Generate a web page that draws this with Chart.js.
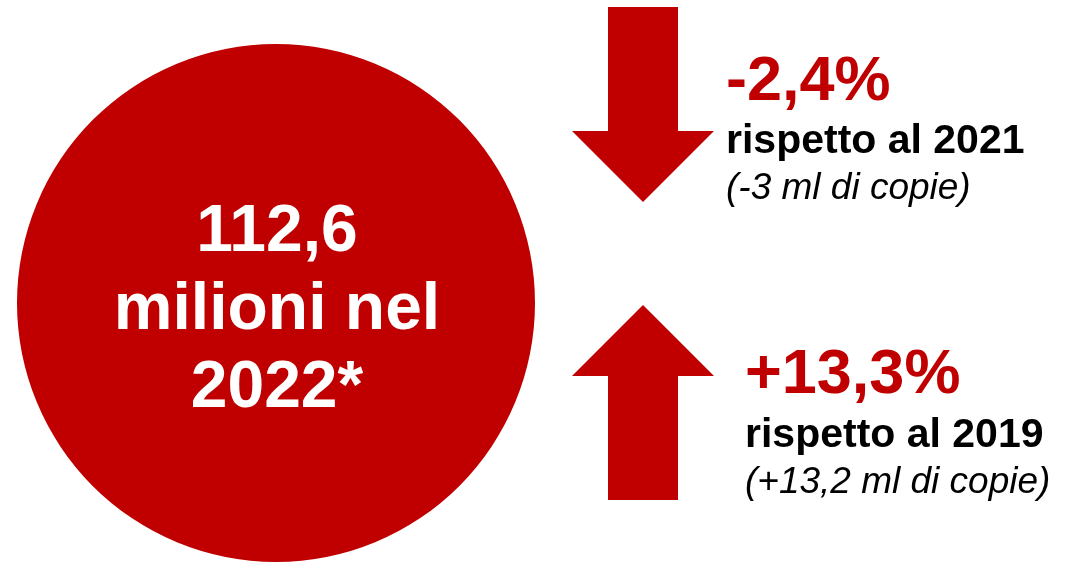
<!DOCTYPE html>
<html>
<head>
<meta charset="utf-8">
<script src="https://cdn.jsdelivr.net/npm/chart.js@4.4.0/dist/chart.umd.min.js"></script>
<style>
  html, body { margin: 0; padding: 0; background: #fff; overflow: hidden; }
  canvas { display: block; }
</style>
</head>
<body>
<canvas id="infografica" width="1075" height="562"></canvas>
<script>
// dati
const totale = [112.6]
const annoTotale = '2022*'
const anniConfronto = ['2021', '2019']
const variazioni = [-2.4, 13.3]
const copie = [-3, 13.2]

const ROSSO = '#c00000'
const FONT = '"Liberation Sans", Arial, sans-serif'

const fmt = (v, sign) => {
  const s = String(v).replace('.', ',')
  return sign && v > 0 ? '+' + s : s
}

// layout of the right column (one slot per comparison)
const slots = [
  { top: 7, bottom: 202, textX: 726, y: [100, 153, 199] },
  { top: 305, bottom: 500, textX: 745, y: [393, 447, 493] }
]
const arrow = { cx: 643, shaft: 35, head: 71 }

const drawArrow = (ctx, slot, up) => {
  const { cx, shaft, head } = arrow
  ctx.beginPath()
  if (up) {
    const base = slot.top + head
    ctx.moveTo(cx, slot.top)
    ctx.lineTo(cx + head, base)
    ctx.lineTo(cx + shaft, base)
    ctx.lineTo(cx + shaft, slot.bottom)
    ctx.lineTo(cx - shaft, slot.bottom)
    ctx.lineTo(cx - shaft, base)
    ctx.lineTo(cx - head, base)
  } else {
    const base = slot.bottom - head
    ctx.moveTo(cx - shaft, slot.top)
    ctx.lineTo(cx + shaft, slot.top)
    ctx.lineTo(cx + shaft, base)
    ctx.lineTo(cx + head, base)
    ctx.lineTo(cx, slot.bottom)
    ctx.lineTo(cx - head, base)
    ctx.lineTo(cx - shaft, base)
  }
  ctx.closePath()
  ctx.fillStyle = ROSSO
  ctx.fill()
}

const testiPlugin = {
  id: 'testi',
  afterDraw (chart) {
    const ctx = chart.ctx
    ctx.save()

    // text inside the circle
    const arc = chart.getDatasetMeta(0).data[0]
    const righe = [fmt(totale[0]), 'milioni nel', annoTotale]
    ctx.fillStyle = '#fff'
    ctx.textAlign = 'center'
    ctx.textBaseline = 'alphabetic'
    ctx.font = 'bold 66px ' + FONT
    righe.forEach((r, i) => {
      ctx.fillText(r, arc.x + 1, arc.y + 26 + (i - 1) * 78)
    })

    // arrows + comparisons
    ctx.textAlign = 'left'
    variazioni.forEach((v, i) => {
      const slot = slots[i]
      drawArrow(ctx, slot, v > 0)

      ctx.fillStyle = ROSSO
      ctx.font = 'bold 63px ' + FONT
      ctx.fillText(fmt(v, true) + '%', slot.textX, slot.y[0])

      ctx.fillStyle = '#000'
      ctx.font = 'bold 41px ' + FONT
      ctx.fillText('rispetto al ' + anniConfronto[i], slot.textX, slot.y[1])

      ctx.font = 'italic 37px ' + FONT
      ctx.fillText('(' + fmt(copie[i], true) + ' ml di copie)', slot.textX, slot.y[2])
    })

    ctx.restore()
  }
}

new Chart(document.getElementById('infografica'), {
  type: 'pie',
  data: {
    labels: ['Copie vendute ' + annoTotale],
    datasets: [{
      data: totale,
      backgroundColor: ROSSO,
      borderWidth: 0
    }]
  },
  options: {
    responsive: false,
    animation: false,
    layout: {
      padding: { left: 17, top: 44, right: 540, bottom: 0 }
    },
    plugins: {
      legend: { display: false },
      tooltip: { enabled: false }
    }
  },
  plugins: [testiPlugin]
})
</script>
</body>
</html>
